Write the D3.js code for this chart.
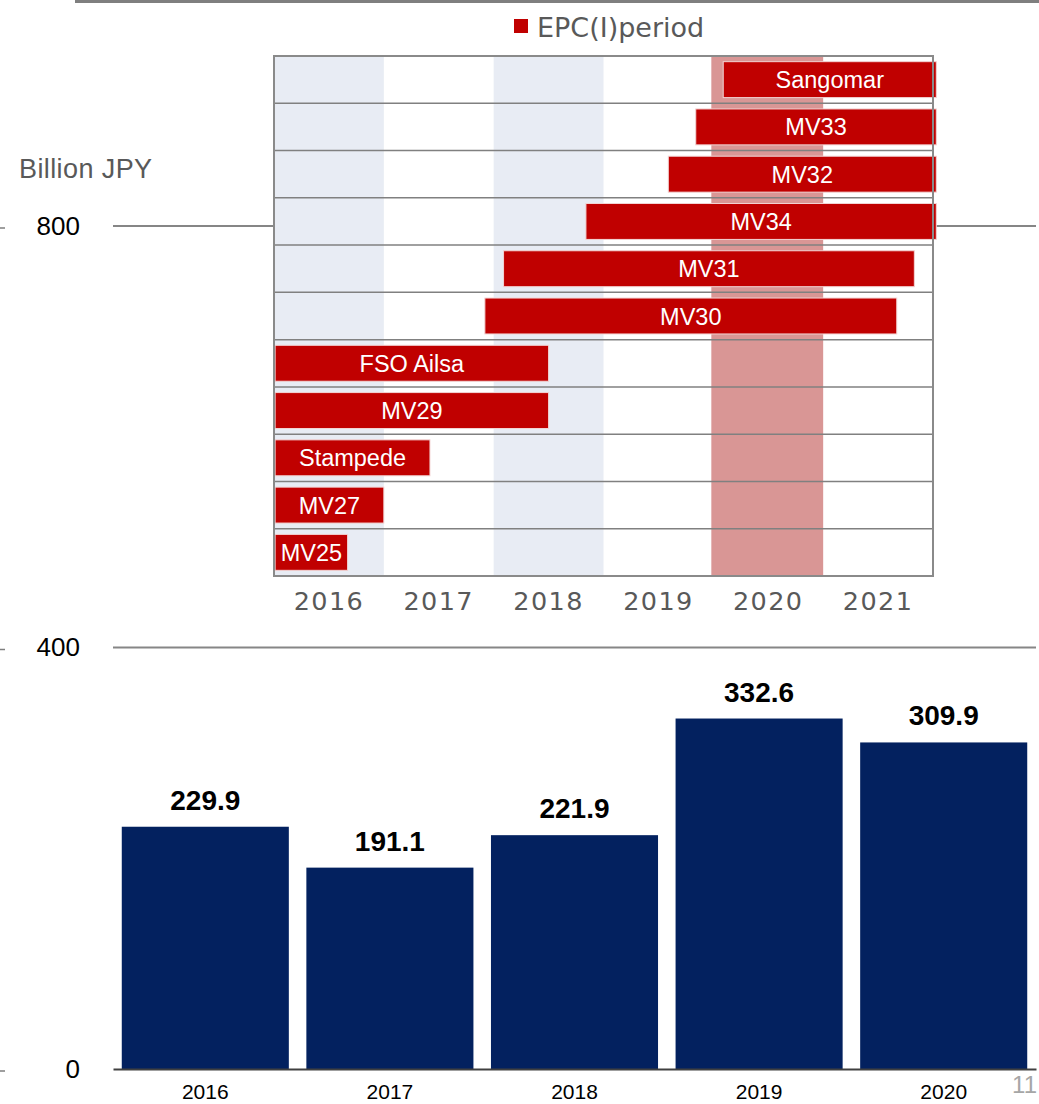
<!DOCTYPE html>
<html>
<head>
<meta charset="utf-8">
<script src="https://cdn.jsdelivr.net/npm/d3@7"></script>
<style>
  html, body { margin: 0; padding: 0; background: #ffffff; }
  svg { display: block; }
</style>
</head>
<body>
<svg id="chart" width="1039" height="1104"></svg>
<script>
// Annual order intake (Billion JPY)
const years = ["2016", "2017", "2018", "2019", "2020"];
const values = [229.9, 191.1, 221.9, 332.6, 309.9];
const yTicks = [0, 400, 800];

// EPC(I) schedule of each project, in fractional years
const projects = ["Sangomar", "MV33", "MV32", "MV34", "MV31", "MV30", "FSO Ailsa", "MV29", "Stampede", "MV27", "MV25"];
const projectStart = [2020.09, 2019.84, 2019.59, 2018.84, 2018.09, 2017.92, 2016.01, 2016.01, 2016.01, 2016.01, 2016.01];
const projectEnd = [2022.03, 2022.03, 2022.03, 2022.03, 2021.83, 2021.67, 2018.5, 2018.5, 2017.42, 2017.0, 2016.67];
const timelineYears = ["2016", "2017", "2018", "2019", "2020", "2021"];
const shadedYears = ["2016", "2018"];
const highlightYear = "2020";

const svg = d3.select("#chart");
const sans = "'Liberation Sans', Arial, sans-serif";
const verdanaLike = "'DejaVu Sans', Verdana, sans-serif";

// ---- header rule ----
svg.append("line")
  .attr("x1", 75).attr("x2", 1039).attr("y1", 1.5).attr("y2", 1.5)
  .attr("stroke", "#7f7f7f").attr("stroke-width", 3);

// ---- bar chart ----
const x = d3.scaleBand().domain(years).range([113, 1036]).paddingInner(0.095).paddingOuter(0.0475);
const y = d3.scaleLinear().domain([0, 800]).range([1069, 226]);

// gridlines
svg.append("g").selectAll("line")
  .data(yTicks.filter(d => d > 0))
  .join("line")
  .attr("x1", 113).attr("x2", 1036)
  .attr("y1", d => y(d)).attr("y2", d => y(d))
  .attr("stroke", "#868686").attr("stroke-width", 2);

// small marks at the far left
svg.append("g").selectAll("line")
  .data(yTicks)
  .join("line")
  .attr("x1", 0).attr("x2", 5)
  .attr("y1", d => y(d) + 2).attr("y2", d => y(d) + 2)
  .attr("stroke", "#7f7f7f").attr("stroke-width", 1.5);

// value axis labels
const yAxis = svg.append("g")
  .attr("transform", "translate(113,0)")
  .call(d3.axisLeft(y).tickValues(yTicks).tickSize(0).tickPadding(33));
yAxis.select(".domain").remove();
yAxis.selectAll("text")
  .attr("font-family", sans).attr("font-size", 26).attr("fill", "#000");

svg.append("text")
  .attr("x", 19).attr("y", 178)
  .attr("font-family", sans).attr("font-size", 27).attr("fill", "#595959")
  .attr("letter-spacing", 0.4)
  .text("Billion JPY");

// bars
svg.append("g").selectAll("rect")
  .data(years)
  .join("rect")
  .attr("x", d => x(d))
  .attr("width", x.bandwidth())
  .attr("y", (d, i) => y(values[i]))
  .attr("height", (d, i) => y(0) - y(values[i]))
  .attr("fill", "#03215f");

// value labels
svg.append("g").selectAll("text")
  .data(years)
  .join("text")
  .attr("x", d => x(d) + x.bandwidth() / 2)
  .attr("y", (d, i) => y(values[i]) - 17)
  .attr("text-anchor", "middle")
  .attr("font-family", sans).attr("font-size", 28).attr("font-weight", "bold").attr("fill", "#000")
  .text((d, i) => values[i].toFixed(1));

// category axis
const xAxis = svg.append("g")
  .attr("transform", `translate(0,${y(0)})`)
  .call(d3.axisBottom(x).tickSize(0).tickSizeOuter(0).tickPadding(15));
xAxis.select(".domain").attr("stroke", "#404040").attr("stroke-width", 2);
xAxis.selectAll("text")
  .attr("font-family", sans).attr("font-size", 21).attr("fill", "#000");

// page number
svg.append("text")
  .attr("x", 1037).attr("y", 1093)
  .attr("text-anchor", "end")
  .attr("font-family", sans).attr("font-size", 24).attr("fill", "#a6a6a6")
  .text("11");

// ---- EPC(I) schedule inset ----
const gx = d3.scaleLinear().domain([2016, 2022]).range([274, 933]);
const gyear = d3.scaleBand().domain(timelineYears).range([274, 933]);
const gy = d3.scaleBand().domain(projects).range([56, 576]).paddingInner(0.24).paddingOuter(0.12);
const rowStep = gy.step();
const inset = svg.append("g");

inset.append("rect")
  .attr("x", 274).attr("y", 56).attr("width", 659).attr("height", 520)
  .attr("fill", "#ffffff");

// year shading
inset.append("g").selectAll("rect")
  .data(shadedYears)
  .join("rect")
  .attr("x", d => gyear(d)).attr("width", gyear.bandwidth())
  .attr("y", 56).attr("height", 520)
  .attr("fill", "#e8ecf4");
inset.append("rect")
  .attr("x", gyear(highlightYear) - 2).attr("width", gyear.bandwidth() + 2)
  .attr("y", 56).attr("height", 520)
  .attr("fill", "#d99695");

// row separators
inset.append("g").selectAll("line")
  .data(d3.range(1, projects.length))
  .join("line")
  .attr("x1", 274).attr("x2", 933)
  .attr("y1", i => 56 + i * rowStep).attr("y2", i => 56 + i * rowStep)
  .attr("stroke", "#808080").attr("stroke-width", 1.5);

// row ticks on the left frame side
inset.append("g").selectAll("line")
  .data(d3.range(1, projects.length))
  .join("line")
  .attr("x1", 274).attr("x2", 274)
  .attr("y1", i => 56 + i * rowStep - 3).attr("y2", i => 56 + i * rowStep + 3)
  .attr("stroke", "#808080").attr("stroke-width", 1.5);

// project bars
inset.append("g").selectAll("rect")
  .data(projects)
  .join("rect")
  .attr("x", (d, i) => gx(projectStart[i]))
  .attr("width", (d, i) => gx(projectEnd[i]) - gx(projectStart[i]))
  .attr("y", d => gy(d))
  .attr("height", gy.bandwidth())
  .attr("fill", "#c00000")
  .attr("stroke", "#f2d4d4").attr("stroke-width", 1);

inset.append("g").selectAll("text")
  .data(projects)
  .join("text")
  .attr("x", (d, i) => (gx(projectStart[i]) + gx(projectEnd[i])) / 2)
  .attr("y", d => gy(d) + gy.bandwidth() / 2 + 8.5)
  .attr("text-anchor", "middle")
  .attr("font-family", sans).attr("font-size", 23.5).attr("fill", "#ffffff")
  .text(d => d);

// frame
inset.append("rect")
  .attr("x", 274).attr("y", 56).attr("width", 659).attr("height", 520)
  .attr("fill", "none").attr("stroke", "#8a8a8a").attr("stroke-width", 2);

// year labels
const gAxis = inset.append("g")
  .attr("transform", "translate(0,576)")
  .call(d3.axisBottom(gyear).tickSize(0).tickPadding(16));
gAxis.select(".domain").remove();
gAxis.selectAll("text")
  .attr("font-family", verdanaLike).attr("font-size", 25.5).attr("fill", "#595959")
  .attr("letter-spacing", 1.4);

// legend
const legend = svg.append("g");
legend.append("rect")
  .attr("x", 514).attr("y", 19).attr("width", 14).attr("height", 14)
  .attr("fill", "#c00000");
legend.append("text")
  .attr("x", 537).attr("y", 37)
  .attr("font-family", verdanaLike).attr("font-size", 27).attr("fill", "#595959")
  .text("EPC(I)period");
</script>
</body>
</html>
